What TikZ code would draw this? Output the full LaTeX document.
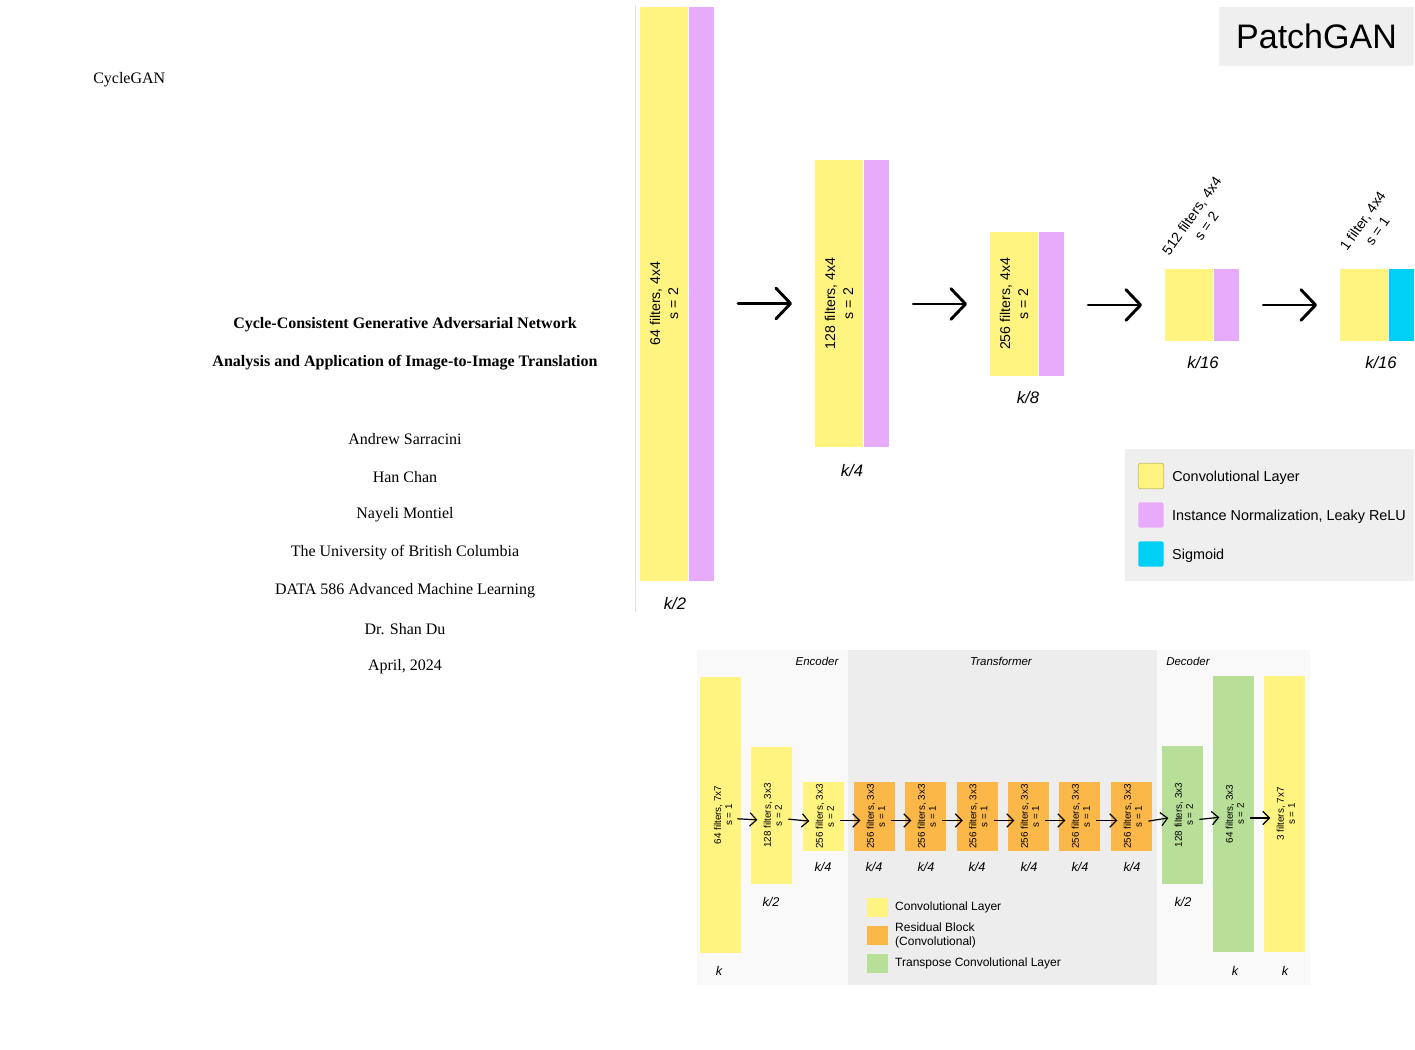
\documentclass[tikz,border=0pt]{standalone}
\usepackage{fontspec}
\setmainfont{Liberation Serif}
\setsansfont{Liberation Sans}
\usetikzlibrary{positioning,arrows.meta}
\definecolor{convyellow}{HTML}{FFF480}
\definecolor{convedge}{HTML}{C9BE62}
\definecolor{normpink}{HTML}{E8AAFA}
\definecolor{sigcyan}{HTML}{00D0F5}
\definecolor{resorange}{HTML}{FBB848}
\definecolor{transgreen}{HTML}{B8DF98}
\definecolor{panelgray}{HTML}{EFEFEF}
\definecolor{transgray}{HTML}{EDEDED}
\definecolor{sidegray}{HTML}{F9F9F9}
\definecolor{rulegray}{HTML}{E2E2E2}

\begin{document}
\begin{tikzpicture}[x=0.75pt, y=-0.75pt,
	paper/.style={font=\fontsize{12}{14}\selectfont, inner sep=0pt},
	paperbold/.style={font=\bfseries\fontsize{12}{14}\selectfont, inner sep=0pt},
	pconv/.style={fill=convyellow, inner sep=0pt, minimum width=36pt},
	pnorm/.style={fill=normpink, inner sep=0pt, minimum width=19pt},
	psig/.style={fill=sigcyan, inner sep=0pt, minimum width=19pt},
	plabel/.style={font=\sffamily\fontsize{10.6}{13.5}\selectfont, align=center, inner sep=0pt},
	klabel/.style={font=\sffamily\itshape\fontsize{12.5}{14}\selectfont, inner sep=0pt},
	parrow/.style={line width=2.2pt, line cap=round, -{Straight Barb[length=11pt, width=23pt, round]}},
	swatch/.style={minimum width=19pt, minimum height=19pt, inner sep=0pt, rounded corners=1.5pt},
	legtext/.style={font=\sffamily\fontsize{10.8}{13}\selectfont, inner sep=0pt, anchor=west, yshift=-1.2pt},
	gconv/.style={fill=convyellow, inner sep=0pt, minimum width=30.75pt},
	gres/.style={fill=resorange, inner sep=0pt, minimum width=30.75pt, minimum height=51.75pt},
	gtrans/.style={fill=transgreen, inner sep=0pt, minimum width=30.75pt},
	glabel/.style={font=\sffamily\fontsize{7.4}{8.3}\selectfont, align=center, inner sep=0pt, rotate=90},
	gk/.style={font=\sffamily\itshape\fontsize{9.5}{11}\selectfont, inner sep=0pt},
	gsec/.style={font=\sffamily\itshape\fontsize{8.6}{10}\selectfont, inner sep=0pt},
	garrow/.style={line width=0.9pt, -{Straight Barb[length=5pt, width=10pt]}, shorten <=-3pt, shorten >=-5pt},
	gswatch/.style={minimum width=15.75pt, minimum height=14.25pt, inner sep=0pt},
	glegtext/.style={font=\sffamily\fontsize{9}{10.5}\selectfont, inner sep=0pt, anchor=west, align=left}]
	\useasboundingbox (0,0) rectangle (1415,1050);

	% title page text
	\node[paper, anchor=west] (cyc) at (93,80) {CycleGAN};
	\node[paperbold] (tone) at (405,325) {Cycle-Consistent Generative Adversarial Network};
	\node[paperbold] (ttwo) at (405,363) {Analysis and Application of Image-to-Image Translation};
	\node[paper] (au1) at (405,439) {Andrew Sarracini};
	\node[paper] (au2) at (405,477) {Han Chan};
	\node[paper] (au3) at (405,515) {Nayeli Montiel};
	\node[paper] (uni) at (405,553) {The University of British Columbia};
	\node[paper] (crs) at (405,591) {DATA 586 Advanced Machine Learning};
	\node[paper] (prof) at (405,629) {Dr. Shan Du};
	\node[paper] (date) at (405,667) {April, 2024};

	% PatchGAN
	\draw[rulegray, line width=0.75pt] (635,5) -- (635,612);
	\node[fill=panelgray, minimum width=146.25pt, minimum height=44.25pt, inner sep=0pt,
		font=\sffamily\fontsize{25.5}{28}\selectfont] (ptitle) at (1316.5,36.5) {PatchGAN};

	\node[pconv, minimum height=430.5pt] (c1) at (664,294) {};
	\node[pnorm, minimum height=430.5pt, right=0pt of c1] (n1) {};
	\node[pconv, minimum height=215.25pt] (c2) at (839,303.5) {};
	\node[pnorm, minimum height=215.25pt, right=0pt of c2] (n2) {};
	\node[pconv, minimum height=108pt] (c3) at (1014,304) {};
	\node[pnorm, minimum height=108pt, right=0pt of c3] (n3) {};
	\node[pconv, minimum height=54pt] (c4) at (1189,305) {};
	\node[pnorm, minimum height=54pt, right=0pt of c4] (n4) {};
	\node[pconv, minimum height=54pt] (c5) at (1364,305) {};
	\node[psig, minimum height=54pt, right=0pt of c5] (s5) {};

	\node[plabel, rotate=90] (l1) at (c1 |- c2) {64 filters, 4x4\\s = 2};
	\node[plabel, rotate=90] (l2) at (c2) {128 filters, 4x4\\s = 2};
	\node[plabel, rotate=90] (l3) at (c3) {256 filters, 4x4\\s = 2};
	\node[plabel, rotate=55] (l4) at (1199,221) {512 filters, 4x4\\s = 2};
	\node[plabel, rotate=55] (l5) at (1370,226) {1 filter, 4x4\\s = 1};

	\node[klabel] (k1) at (675,604) {k/2};
	\node[klabel] (k2) at (852,471) {k/4};
	\node[klabel] (k3) at (1028,398) {k/8};
	\node[klabel] (k4) at (1203,363) {k/16};
	\node[klabel] (k5) at (1381,363) {k/16};

	\draw[parrow, shorten <=18pt, shorten >=17pt] (n1.east |- c2.west) -- (c2.west);
	\draw[parrow, shorten <=18pt, shorten >=17pt] (n2.east |- c3.west) -- (c3.west);
	\draw[parrow, shorten <=18pt, shorten >=17pt] (n3.east |- c4.west) -- (c4.west);
	\draw[parrow, shorten <=18pt, shorten >=17pt] (n4.east) -- (c5.west);

	\node[fill=panelgray, minimum width=216.75pt, minimum height=99pt, inner sep=0pt] (plegend) at (1269.5,515) {};
	\node[swatch, fill=convyellow, draw=convedge, line width=0.6pt] (sw1) at (1151,476) {};
	\node[swatch, fill=normpink] (sw2) at (1151,515) {};
	\node[swatch, fill=sigcyan] (sw3) at (1151,554) {};
	\node[legtext, right=6pt of sw1] (lt1) {Convolutional Layer};
	\node[legtext, right=6pt of sw2] (lt2) {Instance Normalization, Leaky ReLU};
	\node[legtext, right=6pt of sw3] (lt3) {Sigmoid};

	% generator
	\fill[sidegray] (697,650) rectangle (848,985);
	\fill[transgray] (848,650) rectangle (1157,985);
	\fill[sidegray] (1157,650) rectangle (1310,985);
	\node[gsec] (enc) at (817,661) {Encoder};
	\node[gsec] (trf) at (1001,661) {Transformer};
	\node[gsec] (dec) at (1188,661) {Decoder};

	\node[gconv, minimum height=207pt] (g1) at (720.5,815) {};
	\node[gconv, minimum height=102.75pt] (g2) at (771.5,815.5) {};
	\node[gconv, minimum height=51.75pt] (g3) at (823.5,816.5) {};
	\node[gres] (g4) at (874.5,816.5) {};
	\node[gres] (g5) at (925.5,816.5) {};
	\node[gres] (g6) at (977,816.5) {};
	\node[gres] (g7) at (1028.5,816.5) {};
	\node[gres] (g8) at (1079.5,816.5) {};
	\node[gres] (g9) at (1131.5,816.5) {};
	\node[gtrans, minimum height=103.5pt] (g10) at (1182.5,815) {};
	\node[gtrans, minimum height=207pt] (g11) at (1233.5,814) {};
	\node[gconv, minimum height=207pt] (g12) at (1284.5,814) {};

	\node[glabel] (gl1) at ([xshift=2pt]g1) {64 filters, 7x7\\s = 1};
	\node[glabel] (gl2) at ([xshift=1pt]g2) {128 filters, 3x3\\s = 2};
	\node[glabel] (gl3) at ([xshift=1pt]g3) {256 filters, 3x3\\s = 2};
	\node[glabel] (gl4) at ([xshift=1pt]g4) {256 filters, 3x3\\s = 1};
	\node[glabel] (gl5) at ([xshift=1pt]g5) {256 filters, 3x3\\s = 1};
	\node[glabel] (gl6) at ([xshift=1pt]g6) {256 filters, 3x3\\s = 1};
	\node[glabel] (gl7) at ([xshift=1pt]g7) {256 filters, 3x3\\s = 1};
	\node[glabel] (gl8) at ([xshift=1pt]g8) {256 filters, 3x3\\s = 1};
	\node[glabel] (gl9) at ([xshift=1pt]g9) {256 filters, 3x3\\s = 1};
	\node[glabel] (gl10) at ([xshift=1pt]g10) {128 filters, 3x3\\s = 2};
	\node[glabel] (gl11) at ([xshift=1pt]g11) {64 filters, 3x3\\s = 2};
	\node[glabel] (gl12) at ([xshift=1pt]g12) {3 filters, 7x7\\s = 1};

	\node[gk] (gk1) at (719,971) {k};
	\node[gk] (gk2) at (771,902) {k/2};
	\node[gk] (gk3) at (823,867) {k/4};
	\node[gk] (gk4) at (874,867) {k/4};
	\node[gk] (gk5) at (926,867) {k/4};
	\node[gk] (gk6) at (977,867) {k/4};
	\node[gk] (gk7) at (1029,867) {k/4};
	\node[gk] (gk8) at (1080,867) {k/4};
	\node[gk] (gk9) at (1132,867) {k/4};
	\node[gk] (gk10) at (1183,902) {k/2};
	\node[gk] (gk11) at (1235,971) {k};
	\node[gk] (gk12) at (1285,971) {k};

	\draw[garrow] ([yshift=-3pt]g1.east) -- ([yshift=-3pt]g2.west);
	\draw[garrow] ([yshift=-3pt]g2.east) -- ([yshift=-3pt]g3.west);
	\draw[garrow] ([yshift=-3pt]g3.east) -- ([yshift=-3pt]g4.west);
	\draw[garrow] ([yshift=-3pt]g4.east) -- ([yshift=-3pt]g5.west);
	\draw[garrow] ([yshift=-3pt]g5.east) -- ([yshift=-3pt]g6.west);
	\draw[garrow] ([yshift=-3pt]g6.east) -- ([yshift=-3pt]g7.west);
	\draw[garrow] ([yshift=-3pt]g7.east) -- ([yshift=-3pt]g8.west);
	\draw[garrow] ([yshift=-3pt]g8.east) -- ([yshift=-3pt]g9.west);
	\draw[garrow] ([yshift=-3pt]g9.east) -- ([yshift=-3pt]g10.west);
	\draw[garrow] ([yshift=-3pt]g10.east) -- ([yshift=-3pt]g11.west);
	\draw[garrow] ([yshift=-3pt]g11.east) -- ([yshift=-3pt]g12.west);

	\node[gswatch, fill=convyellow] (gs1) at (877.5,907) {};
	\node[gswatch, fill=resorange] (gs2) at (877.5,935.5) {};
	\node[gswatch, fill=transgreen] (gs3) at (877.5,963.5) {};
	\node[glegtext, right=5pt of gs1] (gt1) {Convolutional Layer};
	\node[glegtext, right=5pt of gs2] (gt2) {Residual Block\\(Convolutional)};
	\node[glegtext, right=5pt of gs3] (gt3) {Transpose Convolutional Layer};
\end{tikzpicture}
\end{document}
